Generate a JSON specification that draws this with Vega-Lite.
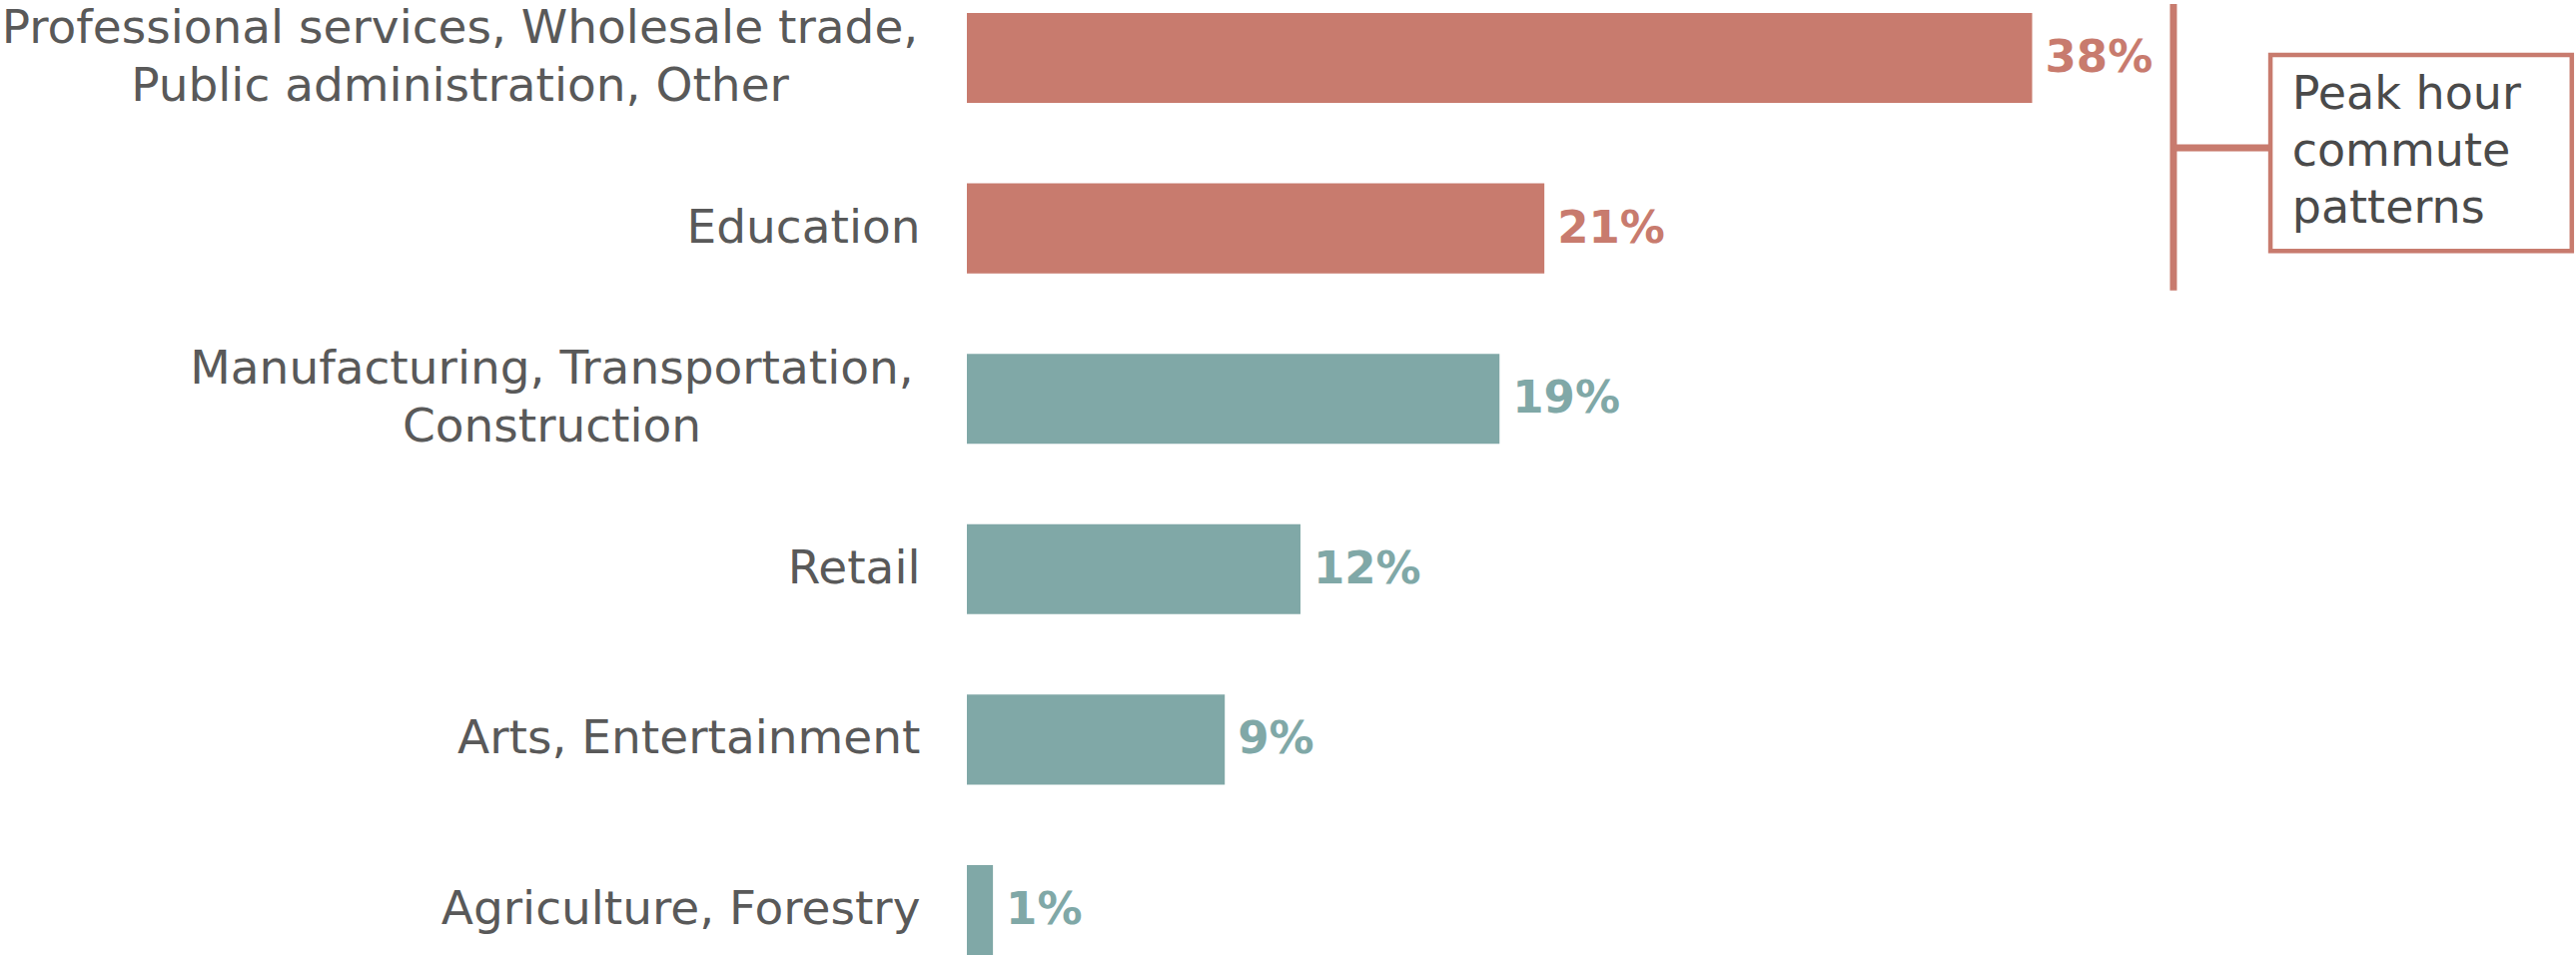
{
  "$schema": "https://vega.github.io/schema/vega-lite/v6.json",
  "width": 1611,
  "height": 943,
  "autosize": {"type": "none"},
  "padding": {"left": 968, "top": 13, "right": 0, "bottom": 0},
  "background": "white",
  "config": {"view": {"stroke": null}, "font": "DejaVu Sans"},
  "datasets": {
    "bars": [
      {"industry": "Professional services, Wholesale trade,|Public administration, Other", "share": 38, "label": "38%", "group": "peak"},
      {"industry": "Education", "share": 20.6, "label": "21%", "group": "peak"},
      {"industry": "Manufacturing, Transportation,|Construction", "share": 19, "label": "19%", "group": "other"},
      {"industry": "Retail", "share": 11.9, "label": "12%", "group": "other"},
      {"industry": "Arts, Entertainment", "share": 9.2, "label": "9%", "group": "other"},
      {"industry": "Agriculture, Forestry", "share": 0.93, "label": "1%", "group": "other"}
    ],
    "note": [
      {"note": "Peak hour|commute|patterns", "top": "Professional services, Wholesale trade,|Public administration, Other", "bottom": "Education"}
    ]
  },
  "layer": [
    {
      "data": {"name": "bars"},
      "mark": {"type": "bar"},
      "encoding": {
        "y": {
          "field": "industry", "type": "nominal", "sort": null,
          "scale": {
            "domain": ["Professional services, Wholesale trade,|Public administration, Other", "Education", "Manufacturing, Transportation,|Construction", "Retail", "Arts, Entertainment", "Agriculture, Forestry"],
            "paddingInner": 0.472, "paddingOuter": 0
          },
          "axis": {
            "title": null, "domain": false, "ticks": false,
            "labelExpr": "split(datum.value, '|')",
            "labelFont": "DejaVu Sans", "labelFontSize": 47, "labelColor": "#595959",
            "labelLineHeight": 58, "labelLimit": 2000,
            "labelAlign": {"condition": {"test": "indexof(datum.value, '|') >= 0", "value": "center"}, "value": "right"},
            "labelOffset": {"condition": {"test": "indexof(datum.value, '|') >= 0", "value": -29}, "value": 0},
            "labelPadding": {"condition": [
              {"test": "indexof(datum.value, 'Professional') >= 0", "value": 508},
              {"test": "indexof(datum.value, 'Manufacturing') >= 0", "value": 416}
            ], "value": 47}
          }
        },
        "x": {"field": "share", "type": "quantitative", "scale": {"domain": [0, 57.4], "nice": false, "zero": true}, "axis": null},
        "color": {"field": "group", "type": "nominal", "scale": {"domain": ["peak", "other"], "range": ["#C87B6E", "#80A8A7"]}, "legend": null}
      }
    },
    {
      "data": {"name": "bars"},
      "mark": {"type": "text", "align": "left", "baseline": "middle", "dx": 13, "font": "DejaVu Sans", "fontSize": 45, "fontWeight": "bold"},
      "encoding": {
        "y": {"field": "industry", "type": "nominal", "sort": null},
        "x": {"field": "share", "type": "quantitative"},
        "text": {"field": "label"},
        "color": {"field": "group", "type": "nominal"}
      }
    },
    {
      "data": {"name": "note"},
      "mark": {"type": "rule", "color": "#C87B6E", "strokeWidth": 7},
      "encoding": {
        "x": {"datum": 43.04, "type": "quantitative"},
        "y": {"field": "top", "type": "nominal", "bandPosition": -0.1},
        "y2": {"field": "bottom", "bandPosition": 1.19}
      }
    },
    {
      "data": {"name": "note"},
      "mark": {"type": "rule", "color": "#C87B6E", "strokeWidth": 7},
      "encoding": {
        "x": {"datum": 43.04, "type": "quantitative"},
        "x2": {"datum": 46.5},
        "y": {"field": "top", "type": "nominal", "bandPosition": 1.5}
      }
    },
    {
      "data": {"name": "note"},
      "mark": {"type": "rect", "fill": "white", "stroke": "#C87B6E", "strokeWidth": 4.5},
      "encoding": {
        "x": {"datum": 46.5, "type": "quantitative"},
        "x2": {"datum": 57.25},
        "y": {"field": "top", "type": "nominal", "bandPosition": 0.467},
        "y2": {"field": "bottom", "bandPosition": 0.75}
      }
    },
    {
      "data": {"name": "note"},
      "mark": {"type": "text", "align": "left", "baseline": "middle", "lineBreak": "|", "lineHeight": 57, "font": "DejaVu Sans", "fontSize": 46, "color": "#4a4a4a"},
      "encoding": {
        "x": {"datum": 47.27, "type": "quantitative"},
        "y": {"field": "top", "type": "nominal", "bandPosition": 0.91},
        "text": {"field": "note"}
      }
    }
  ]
}
